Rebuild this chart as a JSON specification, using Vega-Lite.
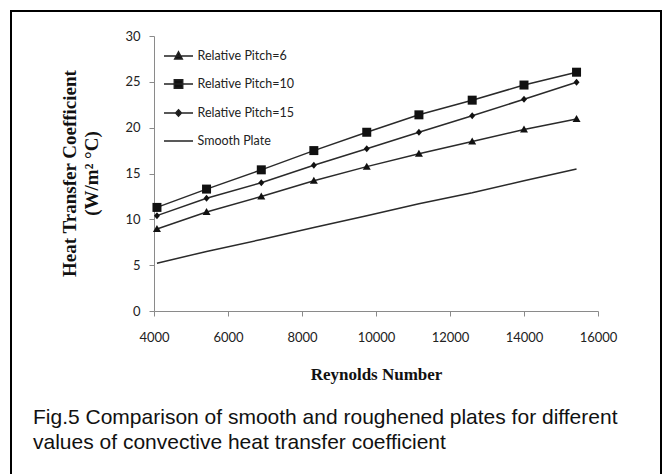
{
  "$schema": "https://vega.github.io/schema/vega-lite/v6.json",
  "width": 650,
  "height": 465,
  "autosize": {"type": "none"},
  "padding": {"left": 11, "top": 11, "right": 4, "bottom": -2},
  "background": "white",
  "config": {
    "view": {"stroke": "#000", "strokeWidth": 2},
    "axis": {
      "grid": false,
      "domainColor": "#8a8a8a",
      "domainWidth": 1,
      "tickColor": "#8a8a8a",
      "tickWidth": 1,
      "tickSize": 5,
      "labelFont": "Lato",
      "labelFontSize": 13,
      "labelColor": "#222",
      "labelFlush": false,
      "titleFont": "Liberation Serif",
      "titleFontWeight": "bold",
      "titleColor": "#111"
    }
  },
  "title": {
    "text": ["Fig.5 Comparison of smooth and roughened plates for different", "values of convective heat transfer coefficient"],
    "orient": "bottom",
    "anchor": "start",
    "frame": "group",
    "offset": -69,
    "dx": 22,
    "font": "Liberation Sans",
    "fontSize": 21,
    "fontWeight": "normal",
    "color": "#111",
    "lineHeight": 24.5
  },
  "data": {
    "values": [
      {"series": "Relative Pitch=6", "Re": 4080, "h": 8.95},
      {"series": "Relative Pitch=6", "Re": 5420, "h": 10.8},
      {"series": "Relative Pitch=6", "Re": 6900, "h": 12.5},
      {"series": "Relative Pitch=6", "Re": 8320, "h": 14.2},
      {"series": "Relative Pitch=6", "Re": 9750, "h": 15.75},
      {"series": "Relative Pitch=6", "Re": 11160, "h": 17.15},
      {"series": "Relative Pitch=6", "Re": 12600, "h": 18.5},
      {"series": "Relative Pitch=6", "Re": 14000, "h": 19.8},
      {"series": "Relative Pitch=6", "Re": 15420, "h": 20.95},
      {"series": "Relative Pitch=10", "Re": 4080, "h": 11.3},
      {"series": "Relative Pitch=10", "Re": 5420, "h": 13.3},
      {"series": "Relative Pitch=10", "Re": 6900, "h": 15.4},
      {"series": "Relative Pitch=10", "Re": 8320, "h": 17.5},
      {"series": "Relative Pitch=10", "Re": 9750, "h": 19.5},
      {"series": "Relative Pitch=10", "Re": 11160, "h": 21.4},
      {"series": "Relative Pitch=10", "Re": 12600, "h": 23.0},
      {"series": "Relative Pitch=10", "Re": 14000, "h": 24.65},
      {"series": "Relative Pitch=10", "Re": 15420, "h": 26.05},
      {"series": "Relative Pitch=15", "Re": 4080, "h": 10.4},
      {"series": "Relative Pitch=15", "Re": 5420, "h": 12.3},
      {"series": "Relative Pitch=15", "Re": 6900, "h": 14.0},
      {"series": "Relative Pitch=15", "Re": 8320, "h": 15.9},
      {"series": "Relative Pitch=15", "Re": 9750, "h": 17.7},
      {"series": "Relative Pitch=15", "Re": 11160, "h": 19.5},
      {"series": "Relative Pitch=15", "Re": 12600, "h": 21.3},
      {"series": "Relative Pitch=15", "Re": 14000, "h": 23.1},
      {"series": "Relative Pitch=15", "Re": 15420, "h": 24.95},
      {"series": "Smooth Plate", "Re": 4080, "h": 5.2},
      {"series": "Smooth Plate", "Re": 5420, "h": 6.5},
      {"series": "Smooth Plate", "Re": 6900, "h": 7.8},
      {"series": "Smooth Plate", "Re": 8320, "h": 9.1},
      {"series": "Smooth Plate", "Re": 9750, "h": 10.4},
      {"series": "Smooth Plate", "Re": 11160, "h": 11.7},
      {"series": "Smooth Plate", "Re": 12600, "h": 12.9},
      {"series": "Smooth Plate", "Re": 14000, "h": 14.2},
      {"series": "Smooth Plate", "Re": 15420, "h": 15.5}
    ]
  },
  "encoding": {
    "x": {
      "field": "Re",
      "type": "quantitative",
      "scale": {"domain": [4000, 16000], "range": [143, 587], "nice": false, "zero": false},
      "axis": {
        "values": [4000, 6000, 8000, 10000, 12000, 14000, 16000],
        "format": "d",
        "offset": -165,
        "labelPadding": 15,
        "title": "Reynolds Number",
        "titleFontSize": 17,
        "titleBaseline": "alphabetic",
        "titleY": 68
      }
    },
    "y": {
      "field": "h",
      "type": "quantitative",
      "scale": {"domain": [0, 30], "range": [300, 25], "nice": false},
      "axis": {
        "values": [0, 5, 10, 15, 20, 25, 30],
        "offset": -143,
        "labelPadding": 9,
        "title": ["Heat Transfer Coefficient", "(W/m² °C)"],
        "titleFontSize": 19,
        "titleLineHeight": 22,
        "titleAngle": 270,
        "titleAlign": "center",
        "titleBaseline": "middle",
        "titleX": -85,
        "titleY": 162
      }
    }
  },
  "layer": [
    {
      "mark": {"type": "line", "color": "#2a2a2a", "strokeWidth": 1.5},
      "encoding": {"detail": {"field": "series"}}
    },
    {
      "transform": [{"filter": "datum.series !== 'Smooth Plate'"}],
      "mark": {"type": "point", "filled": true, "color": "#111", "opacity": 1, "size": 100},
      "encoding": {
        "shape": {
          "field": "series",
          "type": "nominal",
          "scale": {
            "domain": ["Relative Pitch=6", "Relative Pitch=10", "Relative Pitch=15", "Smooth Plate"],
            "range": ["M0,-0.8L0.8,0.6L-0.8,0.6Z", "M-0.9,-0.9H0.9V0.9H-0.9Z", "M0,-0.7L0.6,0L0,0.7L-0.6,0Z", "circle"]
          },
          "legend": null
        }
      }
    },
    {
      "mark": {"type": "point", "filled": false, "color": "#222", "fill": "#111", "strokeWidth": 1.5, "size": 0},
      "encoding": {
        "shape": {
          "field": "series",
          "type": "nominal",
          "scale": {
            "domain": ["Relative Pitch=6", "Relative Pitch=10", "Relative Pitch=15", "Smooth Plate"],
            "range": ["M-1,0H1M0,-0.29L0.26,0.2L-0.26,0.2Z", "M-1,0H1M-0.29,-0.29H0.29V0.29H-0.29Z", "M-1,0H1M0,-0.22L0.2,0L0,0.22L-0.2,0Z", "M-1,0H1"]
          },
          "legend": {
            "orient": "none",
            "legendX": 152,
            "legendY": 29.5,
            "title": null,
            "padding": 0,
            "symbolSize": 841,
            "symbolOpacity": 1,
            "symbolStrokeWidth": 1.5,
            "rowPadding": 6,
            "labelOffset": 3.5,
            "labelFont": "Lato",
            "labelFontSize": 12.5,
            "labelColor": "#222",
            "labelLimit": 200
          }
        }
      }
    }
  ],
  "resolve": {"scale": {"shape": "independent"}, "legend": {"shape": "independent"}}
}
